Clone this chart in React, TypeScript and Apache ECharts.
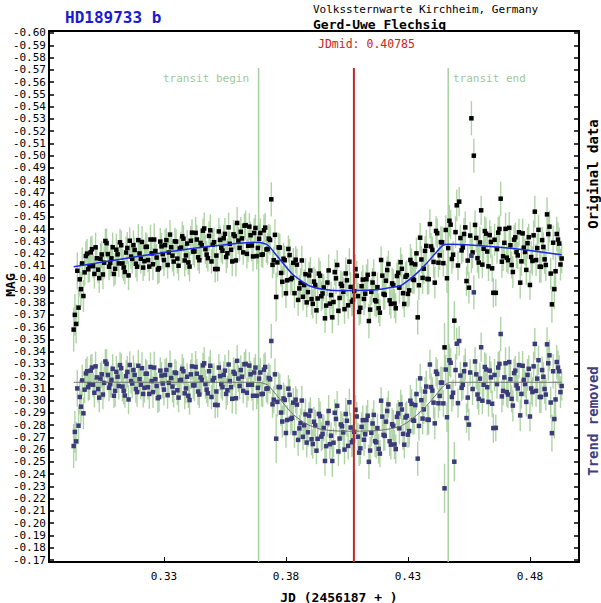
import React, { useEffect, useRef } from "react";
import * as echarts from "echarts";

// Observation times (JD - 2456187), frames of the first camera cycle
const jd = [
  0.293, 0.294, 0.295, 0.296, 0.297, 0.298, 0.299, 0.300, 0.301, 0.302,
  0.303, 0.304, 0.305, 0.306, 0.307, 0.308, 0.309, 0.310, 0.311, 0.312,
  0.313, 0.314, 0.315, 0.316, 0.317, 0.318, 0.319, 0.320, 0.321, 0.322,
  0.323, 0.324, 0.325, 0.326, 0.327, 0.328, 0.329, 0.330, 0.331, 0.332,
  0.333, 0.334, 0.335, 0.336, 0.337, 0.338, 0.339, 0.340, 0.341, 0.342,
  0.343, 0.344, 0.345, 0.346, 0.347, 0.348, 0.349, 0.350, 0.351, 0.352,
  0.353, 0.354, 0.355, 0.356, 0.357, 0.358, 0.359, 0.360, 0.361, 0.362,
  0.363, 0.364, 0.365, 0.366, 0.367, 0.368, 0.369, 0.370, 0.371, 0.372,
  0.373, 0.374, 0.375, 0.376, 0.377, 0.378, 0.379, 0.380, 0.381, 0.382,
  0.383, 0.384, 0.385, 0.386, 0.387, 0.388, 0.389, 0.390, 0.391, 0.392,
  0.393, 0.394, 0.395, 0.396, 0.397, 0.398, 0.399, 0.400, 0.401, 0.402,
  0.403, 0.404, 0.405, 0.406, 0.407, 0.408, 0.409, 0.410, 0.411, 0.412,
  0.413, 0.414, 0.415, 0.416, 0.417, 0.418, 0.419, 0.420, 0.421, 0.422,
  0.423, 0.424, 0.425, 0.426, 0.427, 0.428, 0.429, 0.430, 0.431, 0.432,
  0.433, 0.434, 0.435, 0.436, 0.437, 0.438, 0.439, 0.440, 0.441, 0.442,
  0.443, 0.444, 0.445, 0.446, 0.447, 0.448, 0.449, 0.450, 0.451, 0.452,
  0.453, 0.454, 0.455, 0.456, 0.457, 0.458, 0.459, 0.460, 0.461, 0.462,
  0.463, 0.464, 0.465, 0.466, 0.467, 0.468, 0.469, 0.470, 0.471, 0.472,
  0.473, 0.474, 0.475, 0.476, 0.477, 0.478, 0.479, 0.480, 0.481, 0.482,
  0.483, 0.484, 0.485, 0.486, 0.487, 0.488, 0.489, 0.490, 0.491, 0.492,
  0.493,
];

const magOriginal = [
  -0.3580, -0.3626, -0.3759, -0.3910, -0.3854, -0.4180, -0.4072, -0.4210, -0.4098, -0.4251,
  -0.4069, -0.4157, -0.4030, -0.4303, -0.4196, -0.4124, -0.4252, -0.4076, -0.4194, -0.4292,
  -0.4120, -0.4050, -0.4246, -0.4305, -0.4157, -0.4230, -0.4093, -0.4201, -0.4295, -0.4138,
  -0.4256, -0.4094, -0.4202, -0.4315, -0.4168, -0.4081, -0.4259, -0.4147, -0.4310, -0.4209,
  -0.4252, -0.4135, -0.4298, -0.4101, -0.4249, -0.4322, -0.4185, -0.4128, -0.4305, -0.4217,
  -0.4369, -0.4170, -0.4287, -0.4387, -0.4236, -0.4163, -0.4390, -0.4272, -0.4074, -0.4074,
  -0.4312, -0.4224, -0.4361, -0.4203, -0.4280, -0.4136, -0.4343, -0.4450, -0.4247, -0.4324,
  -0.4428, -0.4198, -0.4420, -0.4266, -0.4368, -0.4180, -0.4321, -0.4190, -0.4390, -0.4234,
  -0.4322, -0.4643, -0.4146, -0.3846, -0.4251, -0.4042, -0.4158, -0.3876, -0.4238, -0.3991,
  -0.4125, -0.4150, -0.3822, -0.3960, -0.3848, -0.4032, -0.3886, -0.4062, -0.3790, -0.3944,
  -0.3834, -0.4019, -0.3875, -0.3672, -0.3964, -0.3792, -0.3680, -0.4049, -0.4107, -0.3838,
  -0.3937, -0.3747, -0.3982, -0.4134, -0.3808, -0.3893, -0.4019, -0.3724, -0.3934, -0.3830,
  -0.3991, -0.3650, -0.3888, -0.4034, -0.3810, -0.3754, -0.4148, -0.3871, -0.3979, -0.4115,
  -0.3790, -0.3944, -0.3754, -0.4044, -0.4130, -0.3877, -0.4011, -0.3871, -0.4148, -0.3990,
  -0.4112, -0.3680, -0.4330, -0.4002, -0.4222, -0.3994, -0.4441, -0.4230, -0.3963, -0.4366,
  -0.4186, -0.4292, -0.3435, -0.3999, -0.4468, -0.4156, -0.3653, -0.4594, -0.4624, -0.4226,
  -0.4360, -0.3976, -0.3922, -0.5304, -0.4999, -0.4328, -0.4127, -0.4553, -0.4239, -0.4363,
  -0.4096, -0.4295, -0.3880, -0.3880, -0.4371, -0.4648, -0.4178, -0.4402, -0.4146, -0.4268,
  -0.4050, -0.4333, -0.4185, -0.3963, -0.4365, -0.4213, -0.4285, -0.3944, -0.4140, -0.4542,
  -0.4245, -0.4093, -0.4310, -0.4153, -0.4520, -0.4420, -0.3786, -0.3910, -0.4360, -0.4282,
  -0.4160,
];

const magDetrended = [
  -0.2630, -0.2668, -0.2796, -0.2951, -0.2897, -0.3222, -0.3110, -0.3245, -0.3130, -0.3280,
  -0.3095, -0.3180, -0.3050, -0.3320, -0.3210, -0.3135, -0.3260, -0.3080, -0.3195, -0.3290,
  -0.3115, -0.3042, -0.3235, -0.3291, -0.3140, -0.3210, -0.3070, -0.3175, -0.3265, -0.3105,
  -0.3220, -0.3055, -0.3160, -0.3270, -0.3120, -0.3030, -0.3205, -0.3090, -0.3250, -0.3145,
  -0.3185, -0.3065, -0.3225, -0.3025, -0.3170, -0.3240, -0.3100, -0.3040, -0.3215, -0.3125,
  -0.3275, -0.3075, -0.3190, -0.3288, -0.3135, -0.3060, -0.3285, -0.3165, -0.2966, -0.2964,
  -0.3200, -0.3110, -0.3245, -0.3085, -0.3160, -0.3015, -0.3220, -0.3325, -0.3120, -0.3195,
  -0.3297, -0.3065, -0.3286, -0.3130, -0.3230, -0.3040, -0.3180, -0.3053, -0.3253, -0.3097,
  -0.3185, -0.3487, -0.3008, -0.2690, -0.3112, -0.2903, -0.3018, -0.2736, -0.3098, -0.2851,
  -0.2984, -0.3008, -0.2680, -0.2817, -0.2705, -0.2888, -0.2742, -0.2918, -0.2646, -0.2799,
  -0.2689, -0.2874, -0.2729, -0.2508, -0.2817, -0.2645, -0.2508, -0.2901, -0.2958, -0.2691,
  -0.2791, -0.2601, -0.2836, -0.2987, -0.2661, -0.2746, -0.2871, -0.2576, -0.2786, -0.2681,
  -0.2842, -0.2501, -0.2738, -0.2884, -0.2660, -0.2607, -0.3000, -0.2721, -0.2829, -0.2970,
  -0.2641, -0.2795, -0.2605, -0.2896, -0.2970, -0.2729, -0.2863, -0.2723, -0.3000, -0.2842,
  -0.2964, -0.2527, -0.3182, -0.2854, -0.3074, -0.2846, -0.3295, -0.3082, -0.2815, -0.3218,
  -0.3039, -0.3147, -0.2285, -0.2865, -0.3330, -0.3030, -0.2502, -0.3465, -0.3487, -0.3105,
  -0.3240, -0.2858, -0.2805, -0.4183, -0.3884, -0.3215, -0.3015, -0.3436, -0.3130, -0.3255,
  -0.2990, -0.3190, -0.2776, -0.2778, -0.3270, -0.3544, -0.3080, -0.3305, -0.3050, -0.3175,
  -0.2960, -0.3245, -0.3100, -0.2880, -0.3285, -0.3135, -0.3210, -0.2871, -0.3070, -0.3463,
  -0.3180, -0.3030, -0.3250, -0.3095, -0.3460, -0.3370, -0.2735, -0.2850, -0.3315, -0.3240,
  -0.3120,
];

const magError = [
  0.018, 0.016, 0.015, 0.014, 0.013, 0.012, 0.011, 0.013, 0.010, 0.012,
  0.011, 0.013, 0.012, 0.010, 0.012, 0.011, 0.012, 0.013, 0.010, 0.011,
  0.012, 0.010, 0.013, 0.011, 0.012, 0.010, 0.012, 0.011, 0.013, 0.012,
  0.011, 0.012, 0.010, 0.013, 0.011, 0.012, 0.011, 0.013, 0.010, 0.012,
  0.011, 0.012, 0.010, 0.012, 0.013, 0.011, 0.012, 0.010, 0.012, 0.011,
  0.013, 0.011, 0.012, 0.010, 0.012, 0.011, 0.013, 0.012, 0.011, 0.010,
  0.012, 0.011, 0.013, 0.012, 0.010, 0.012, 0.011, 0.013, 0.011, 0.012,
  0.010, 0.012, 0.011, 0.013, 0.012, 0.011, 0.012, 0.010, 0.013, 0.011,
  0.012, 0.014, 0.011, 0.020, 0.012, 0.011, 0.013, 0.012, 0.011, 0.013,
  0.012, 0.011, 0.013, 0.012, 0.011, 0.013, 0.012, 0.011, 0.012, 0.013,
  0.011, 0.012, 0.013, 0.012, 0.011, 0.012, 0.013, 0.011, 0.012, 0.013,
  0.011, 0.012, 0.013, 0.011, 0.012, 0.013, 0.012, 0.011, 0.012, 0.013,
  0.012, 0.014, 0.011, 0.012, 0.013, 0.012, 0.011, 0.013, 0.012, 0.011,
  0.012, 0.013, 0.012, 0.011, 0.012, 0.013, 0.012, 0.011, 0.013, 0.012,
  0.011, 0.014, 0.012, 0.013, 0.012, 0.013, 0.012, 0.011, 0.013, 0.012,
  0.012, 0.013, 0.020, 0.012, 0.013, 0.012, 0.016, 0.013, 0.012, 0.011,
  0.013, 0.012, 0.013, 0.014, 0.014, 0.012, 0.013, 0.012, 0.011, 0.013,
  0.012, 0.013, 0.012, 0.011, 0.013, 0.014, 0.012, 0.013, 0.011, 0.012,
  0.013, 0.012, 0.011, 0.013, 0.012, 0.011, 0.013, 0.012, 0.012, 0.013,
  0.012, 0.013, 0.011, 0.012, 0.014, 0.013, 0.015, 0.016, 0.014, 0.013,
  0.012,
];

// Interleaved frames (second cycle)
const jdB = [
  0.2935, 0.2945, 0.2955, 0.2965, 0.2975, 0.2985, 0.2995, 0.3005, 0.3015, 0.3025,
  0.3035, 0.3045, 0.3055, 0.3065, 0.3075, 0.3085, 0.3095, 0.3105, 0.3115, 0.3125,
  0.3135, 0.3145, 0.3155, 0.3165, 0.3175, 0.3185, 0.3195, 0.3205, 0.3215, 0.3225,
  0.3235, 0.3245, 0.3255, 0.3265, 0.3275, 0.3285, 0.3295, 0.3305, 0.3315, 0.3325,
  0.3335, 0.3345, 0.3355, 0.3365, 0.3375, 0.3385, 0.3395, 0.3405, 0.3415, 0.3425,
  0.3435, 0.3445, 0.3455, 0.3465, 0.3475, 0.3485, 0.3495, 0.3505, 0.3515, 0.3525,
  0.3535, 0.3545, 0.3555, 0.3565, 0.3575, 0.3585, 0.3595, 0.3605, 0.3615, 0.3625,
  0.3635, 0.3645, 0.3655, 0.3665, 0.3675, 0.3685, 0.3695, 0.3705, 0.3715, 0.3725,
  0.3735, 0.3745, 0.3755, 0.3765, 0.3775, 0.3785, 0.3795, 0.3805, 0.3815, 0.3825,
  0.3835, 0.3845, 0.3855, 0.3865, 0.3875, 0.3885, 0.3895, 0.3905, 0.3915, 0.3925,
  0.3935, 0.3945, 0.3955, 0.3965, 0.3975, 0.3985, 0.3995, 0.4005, 0.4015, 0.4025,
  0.4035, 0.4045, 0.4055, 0.4065, 0.4075, 0.4085, 0.4095, 0.4105, 0.4115, 0.4125,
  0.4135, 0.4145, 0.4155, 0.4165, 0.4175, 0.4185, 0.4195, 0.4205, 0.4215, 0.4225,
  0.4235, 0.4245, 0.4255, 0.4265, 0.4275, 0.4285, 0.4295, 0.4305, 0.4315, 0.4325,
  0.4335, 0.4345, 0.4355, 0.4365, 0.4375, 0.4385, 0.4395, 0.4405, 0.4415, 0.4425,
  0.4435, 0.4445, 0.4455, 0.4465, 0.4475, 0.4485, 0.4495, 0.4505, 0.4515, 0.4525,
  0.4535, 0.4545, 0.4555, 0.4565, 0.4575, 0.4585, 0.4595, 0.4605, 0.4615, 0.4625,
  0.4635, 0.4645, 0.4655, 0.4665, 0.4675, 0.4685, 0.4695, 0.4705, 0.4715, 0.4725,
  0.4735, 0.4745, 0.4755, 0.4765, 0.4775, 0.4785, 0.4795, 0.4805, 0.4815, 0.4825,
  0.4835, 0.4845, 0.4855, 0.4865, 0.4875, 0.4885, 0.4895, 0.4905, 0.4915, 0.4925,
];

const magOriginalB = [
  -0.3700, -0.4060, -0.3990, -0.4120, -0.4047, -0.4200, -0.4098, -0.4236, -0.4034, -0.4162,
  -0.4000, -0.4193, -0.4126, -0.4285, -0.4093, -0.4161, -0.4034, -0.4232, -0.4120, -0.4268,
  -0.4086, -0.4209, -0.4022, -0.4176, -0.4269, -0.4117, -0.4310, -0.4158, -0.4086, -0.4254,
  -0.4147, -0.4315, -0.4113, -0.4221, -0.4070, -0.4298, -0.4196, -0.4269, -0.4107, -0.4355,
  -0.4183, -0.4301, -0.4159, -0.4242, -0.4341, -0.4144, -0.4282, -0.4094, -0.4371, -0.4218,
  -0.4315, -0.4146, -0.4268, -0.4405, -0.4192, -0.4344, -0.4136, -0.4293, -0.4184, -0.4381,
  -0.4248, -0.4325, -0.4172, -0.4414, -0.4231, -0.4357, -0.4144, -0.4306, -0.4378, -0.4210,
  -0.4432, -0.4264, -0.4350, -0.4177, -0.4409, -0.4246, -0.4368, -0.4193, -0.4412, -0.4238,
  -0.4311, -0.4108, -0.4353, -0.4128, -0.4249, -0.3970, -0.4146, -0.3982, -0.4188, -0.4001,
  -0.3877, -0.4110, -0.3916, -0.4144, -0.3943, -0.3802, -0.4022, -0.3829, -0.3972, -0.3737,
  -0.4037, -0.3852, -0.3924, -0.3776, -0.4063, -0.3861, -0.3805, -0.3998, -0.3733, -0.3953,
  -0.3888, -0.4038, -0.3778, -0.3928, -0.3823, -0.4073, -0.3853, -0.3758, -0.3988, -0.3873,
  -0.4027, -0.3743, -0.3964, -0.3820, -0.3926, -0.3718, -0.4020, -0.3863, -0.4066, -0.3819,
  -0.3957, -0.3792, -0.4017, -0.3922, -0.4076, -0.3789, -0.4024, -0.3900, -0.4122, -0.3984,
  -0.4202, -0.3942, -0.4152, -0.4077, -0.4263, -0.3991, -0.4259, -0.4132, -0.4385, -0.4126,
  -0.4294, -0.4122, -0.4393, -0.4245, -0.4436, -0.4191, -0.4375, -0.4103, -0.4327, -0.4251,
  -0.4414, -0.4143, -0.4347, -0.4210, -0.4434, -0.4163, -0.4291, -0.4110, -0.4384, -0.4217,
  -0.4351, -0.4080, -0.4313, -0.4237, -0.4401, -0.4134, -0.4288, -0.4167, -0.4410, -0.4107,
  -0.4314, -0.4212, -0.4374, -0.4137, -0.4249, -0.4067, -0.4334, -0.4172, -0.4349, -0.4147,
  -0.4394, -0.4092, -0.4254, -0.4107, -0.4359, -0.4037, -0.4289, -0.4056, -0.4314, -0.4111,
];

const magDetrendedB = [
  -0.2745, -0.3100, -0.3030, -0.3165, -0.3090, -0.3240, -0.3135, -0.3270, -0.3065, -0.3190,
  -0.3025, -0.3215, -0.3145, -0.3300, -0.3105, -0.3170, -0.3040, -0.3235, -0.3120, -0.3265,
  -0.3080, -0.3200, -0.3010, -0.3160, -0.3250, -0.3095, -0.3285, -0.3130, -0.3055, -0.3220,
  -0.3110, -0.3275, -0.3070, -0.3175, -0.3020, -0.3245, -0.3140, -0.3210, -0.3045, -0.3290,
  -0.3115, -0.3230, -0.3085, -0.3165, -0.3260, -0.3060, -0.3195, -0.3005, -0.3280, -0.3125,
  -0.3220, -0.3050, -0.3170, -0.3305, -0.3090, -0.3240, -0.3030, -0.3185, -0.3075, -0.3270,
  -0.3135, -0.3210, -0.3055, -0.3295, -0.3110, -0.3235, -0.3020, -0.3180, -0.3250, -0.3080,
  -0.3300, -0.3130, -0.3215, -0.3040, -0.3270, -0.3105, -0.3230, -0.3056, -0.3275, -0.3101,
  -0.3174, -0.2970, -0.3215, -0.2990, -0.3110, -0.2830, -0.3006, -0.2842, -0.3048, -0.2860,
  -0.2735, -0.2968, -0.2774, -0.3001, -0.2799, -0.2658, -0.2878, -0.2685, -0.2828, -0.2592,
  -0.2892, -0.2707, -0.2777, -0.2629, -0.2916, -0.2714, -0.2657, -0.2851, -0.2586, -0.2806,
  -0.2741, -0.2891, -0.2631, -0.2781, -0.2676, -0.2926, -0.2706, -0.2611, -0.2841, -0.2726,
  -0.2877, -0.2593, -0.2814, -0.2670, -0.2776, -0.2568, -0.2870, -0.2713, -0.2916, -0.2669,
  -0.2808, -0.2643, -0.2868, -0.2774, -0.2928, -0.2641, -0.2876, -0.2752, -0.2974, -0.2836,
  -0.3054, -0.2794, -0.3004, -0.2929, -0.3115, -0.2843, -0.3111, -0.2984, -0.3237, -0.2979,
  -0.3148, -0.2978, -0.3254, -0.3114, -0.3309, -0.3065, -0.3250, -0.2980, -0.3205, -0.3130,
  -0.3295, -0.3025, -0.3230, -0.3095, -0.3320, -0.3050, -0.3180, -0.3000, -0.3275, -0.3110,
  -0.3245, -0.2975, -0.3210, -0.3135, -0.3300, -0.3035, -0.3190, -0.3070, -0.3315, -0.3015,
  -0.3225, -0.3125, -0.3290, -0.3055, -0.3170, -0.2990, -0.3260, -0.3100, -0.3280, -0.3080,
  -0.3330, -0.3030, -0.3195, -0.3050, -0.3305, -0.2985, -0.3240, -0.3010, -0.3270, -0.3070,
];

const magErrorB = [
  0.017, 0.015, 0.014, 0.013, 0.011, 0.012, 0.013, 0.011, 0.012, 0.010,
  0.012, 0.011, 0.013, 0.012, 0.011, 0.012, 0.010, 0.013, 0.011, 0.012,
  0.011, 0.013, 0.012, 0.010, 0.012, 0.011, 0.013, 0.012, 0.011, 0.012,
  0.010, 0.012, 0.013, 0.011, 0.012, 0.011, 0.012, 0.013, 0.011, 0.012,
  0.013, 0.011, 0.012, 0.010, 0.012, 0.013, 0.011, 0.012, 0.011, 0.013,
  0.012, 0.011, 0.012, 0.013, 0.011, 0.012, 0.010, 0.012, 0.013, 0.011,
  0.012, 0.011, 0.013, 0.012, 0.011, 0.012, 0.013, 0.011, 0.012, 0.010,
  0.012, 0.013, 0.011, 0.012, 0.011, 0.013, 0.012, 0.011, 0.012, 0.013,
  0.012, 0.011, 0.013, 0.012, 0.011, 0.013, 0.012, 0.012, 0.013, 0.011,
  0.012, 0.013, 0.011, 0.012, 0.013, 0.012, 0.011, 0.013, 0.012, 0.011,
  0.013, 0.012, 0.011, 0.012, 0.013, 0.011, 0.012, 0.013, 0.012, 0.011,
  0.012, 0.013, 0.011, 0.012, 0.013, 0.012, 0.011, 0.013, 0.012, 0.012,
  0.013, 0.011, 0.012, 0.013, 0.012, 0.011, 0.013, 0.012, 0.011, 0.012,
  0.013, 0.012, 0.011, 0.013, 0.012, 0.011, 0.012, 0.013, 0.012, 0.011,
  0.013, 0.012, 0.011, 0.012, 0.013, 0.012, 0.011, 0.013, 0.012, 0.012,
  0.013, 0.011, 0.012, 0.013, 0.012, 0.011, 0.013, 0.012, 0.011, 0.012,
  0.013, 0.012, 0.011, 0.013, 0.012, 0.012, 0.013, 0.011, 0.012, 0.013,
  0.012, 0.011, 0.013, 0.012, 0.011, 0.013, 0.012, 0.012, 0.013, 0.011,
  0.012, 0.013, 0.011, 0.012, 0.013, 0.012, 0.011, 0.013, 0.012, 0.013,
  0.012, 0.013, 0.012, 0.013, 0.014, 0.013, 0.014, 0.015, 0.014, 0.013,
];

// Fitted trend through the original data
const trendJd = [0.293, 0.340, 0.3687, 0.3725, 0.3768, 0.3823, 0.3864, 0.3898, 0.395, 0.4035, 0.412, 0.418, 0.4235, 0.4267, 0.4295, 0.4336, 0.4377, 0.4418, 0.4445, 0.4472, 0.4718, 0.493];
const trendMag = [-0.4093, -0.4238, -0.4292, -0.4270, -0.4170, -0.4039, -0.3976, -0.3936, -0.3910, -0.3897, -0.3900, -0.3907, -0.3925, -0.3936, -0.3971, -0.4039, -0.4121, -0.4216, -0.4270, -0.4276, -0.4243, -0.4190];

// Transit model for the trend-removed data
const modelJd = [0.293, 0.3687, 0.3725, 0.3768, 0.3823, 0.3864, 0.3898, 0.395, 0.4035, 0.412, 0.418, 0.4235, 0.4267, 0.4295, 0.4336, 0.4377, 0.4418, 0.4445, 0.4472, 0.493];
const modelMag = [-0.3150, -0.3150, -0.3128, -0.3030, -0.2900, -0.2835, -0.2797, -0.2764, -0.2751, -0.2752, -0.2757, -0.2773, -0.2790, -0.2820, -0.2882, -0.2960, -0.3055, -0.3118, -0.3150, -0.3150];

const transitBegin = 0.3688;
const jdMid = 0.40785;
const transitEnd = 0.4465;

const xTicks = [0.33, 0.38, 0.43, 0.48];
const yTicks = [
  -0.60, -0.59, -0.58, -0.57, -0.56, -0.55, -0.54, -0.53, -0.52, -0.51,
  -0.50, -0.49, -0.48, -0.47, -0.46, -0.45, -0.44, -0.43, -0.42, -0.41,
  -0.40, -0.39, -0.38, -0.37, -0.36, -0.35, -0.34, -0.33, -0.32, -0.31,
  -0.30, -0.29, -0.28, -0.27, -0.26, -0.25, -0.24, -0.23, -0.22, -0.21,
  -0.20, -0.19, -0.18, -0.17,
];

const X_MIN = 0.2829;
const X_MAX = 0.5001;
const Y_MIN = -0.60163;
const Y_MAX = -0.16837;
const LINE_TOP = -0.5714;

const MONO = '"DejaVu Sans Mono", monospace';

function rows(times: number[], mags: number[], errs: number[]) {
  return times.map((x, i) => [x, mags[i], errs[i]]);
}

function errorBarSeries(data: number[][]) {
  return {
    type: "custom",
    silent: true,
    z: 1,
    clip: true,
    data,
    encode: { x: 0, y: 1 },
    renderItem: (_params: any, api: any) => {
      const x = api.value(0);
      const y = api.value(1);
      const e = api.value(2);
      const p1 = api.coord([x, y - e]);
      const p2 = api.coord([x, y + e]);
      return {
        type: "line",
        shape: { x1: p1[0], y1: p1[1], x2: p2[0], y2: p2[1] },
        style: { stroke: "#a0cc95", lineWidth: 1.4, opacity: 0.85 },
      };
    },
  };
}

function vLine(x: number, color: string, width: number, z: number) {
  return {
    type: "line",
    silent: true,
    z,
    symbol: "none",
    data: [
      [x, LINE_TOP],
      [x, Y_MAX],
    ],
    lineStyle: { color, width },
  };
}

function textEl(
  text: string,
  x: number,
  y: number,
  font: string,
  fill: string,
  align: string = "left",
  rotation: number = 0
) {
  return {
    type: "text",
    x,
    y,
    rotation,
    silent: true,
    style: {
      text,
      font,
      fill,
      align,
      verticalAlign: "middle",
      textAlign: align,
      textVerticalAlign: "middle",
    },
  };
}

export default function App() {
  const ref = useRef<HTMLDivElement>(null);

  useEffect(() => {
    document.body.style.margin = "0";
    if (!ref.current) return;
    const chart = echarts.init(ref.current, null, { renderer: "svg" });

    const origRows = [...rows(jd, magOriginal, magError), ...rows(jdB, magOriginalB, magErrorB)];
    const detrRows = [...rows(jd, magDetrended, magError), ...rows(jdB, magDetrendedB, magErrorB)];

    const yAxisBase = {
      type: "value",
      inverse: true,
      min: Y_MIN,
      max: Y_MAX,
      splitLine: { show: false },
      axisLine: { show: true, lineStyle: { color: "#000", width: 2 } },
      axisTick: {
        show: true,
        inside: true,
        length: 5,
        customValues: yTicks,
        lineStyle: { color: "#000", width: 1.5 },
      },
    };

    const option: any = {
      animation: false,
      backgroundColor: "#ffffff",
      grid: {
        left: 49,
        right: 22,
        top: 31,
        bottom: 41,
        show: true,
        borderColor: "#000",
        borderWidth: 2,
        backgroundColor: "#ffffff",
      },
      xAxis: {
        type: "value",
        min: X_MIN,
        max: X_MAX,
        splitLine: { show: false },
        axisLine: { show: true, lineStyle: { color: "#000", width: 2 } },
        axisTick: {
          show: true,
          inside: true,
          length: 5,
          customValues: xTicks,
          lineStyle: { color: "#000", width: 1 },
        },
        axisLabel: {
          customValues: xTicks,
          formatter: (v: number) => v.toFixed(2),
          fontFamily: MONO,
          fontSize: 11,
          color: "#000",
          margin: 9,
        },
      },
      yAxis: [
        {
          ...yAxisBase,
          position: "left",
          axisLabel: {
            customValues: yTicks,
            formatter: (v: number) => v.toFixed(2),
            fontFamily: MONO,
            fontSize: 11,
            color: "#000",
            margin: 3,
          },
        },
        {
          ...yAxisBase,
          position: "right",
          axisLabel: { show: false },
        },
      ],
      series: [
        vLine(transitBegin, "#a8d0a0", 1.5, 0),
        vLine(transitEnd, "#a8d0a0", 1.5, 0),
        errorBarSeries(origRows),
        errorBarSeries(detrRows),
        {
          type: "scatter",
          z: 3,
          silent: true,
          symbol: "rect",
          symbolSize: 4.5,
          itemStyle: { color: "#000000", opacity: 1 },
          data: origRows.map((r) => [r[0], r[1]]),
        },
        {
          type: "scatter",
          z: 3,
          silent: true,
          symbol: "rect",
          symbolSize: 4.5,
          itemStyle: { color: "#3b3b7a", opacity: 1 },
          data: detrRows.map((r) => [r[0], r[1]]),
        },
        {
          type: "line",
          z: 4,
          silent: true,
          symbol: "none",
          smooth: 0.2,
          lineStyle: { color: "#1a2ae0", width: 1.5 },
          data: trendJd.map((x, i) => [x, trendMag[i]]),
        },
        {
          type: "line",
          z: 4,
          silent: true,
          symbol: "none",
          smooth: 0.2,
          lineStyle: { color: "#6e6e6e", width: 1 },
          data: modelJd.map((x, i) => [x, modelMag[i]]),
        },
        vLine(jdMid, "#c02828", 2, 5),
      ],
      graphic: {
        elements: [
          textEl("HD189733 b", 65, 17, `bold 16px ${MONO}`, "#1a1ad2"),
          textEl("Volkssternwarte Kirchheim, Germany", 313, 9, `11px ${MONO}`, "#000"),
          textEl("Gerd-Uwe Flechsig", 313, 24, `bold 13px ${MONO}`, "#000"),
          textEl("JDmid: 0.40785", 318, 44, `11.5px ${MONO}`, "#cc2222"),
          textEl("transit begin", 249, 78, `11px ${MONO}`, "#a0c89a", "right"),
          textEl("transit end", 453, 78, `11px ${MONO}`, "#a0c89a"),
          textEl("JD (2456187 + )", 339, 597, `bold 13px ${MONO}`, "#000", "center"),
          textEl("MAG", 10, 285, `bold 13px ${MONO}`, "#000", "center", Math.PI / 2),
          textEl("Original data", 593, 174, `bold 14px ${MONO}`, "#000", "center", Math.PI / 2),
          textEl("Trend removed", 593, 421, `bold 14px ${MONO}`, "#404080", "center", Math.PI / 2),
        ],
      },
    };

    chart.setOption(option);
    return () => chart.dispose();
  }, []);

  return <div ref={ref} style={{ width: 601, height: 603 }} />;
}
